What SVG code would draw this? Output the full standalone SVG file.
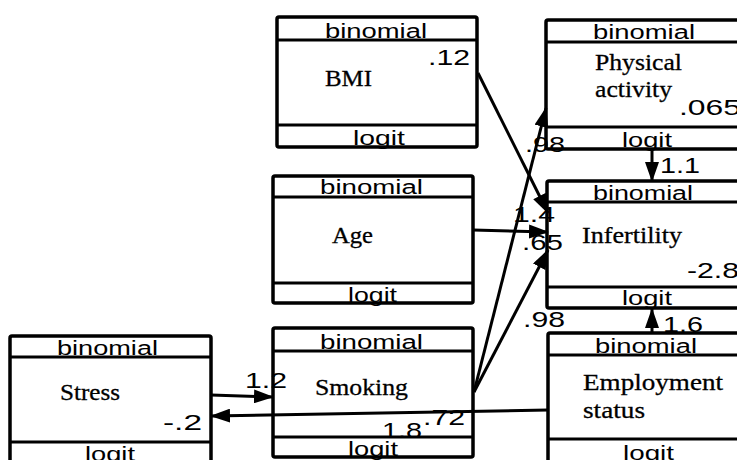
<svg xmlns="http://www.w3.org/2000/svg" width="737" height="460" viewBox="0 0 737 460">
<defs>
<marker id="ah" markerUnits="userSpaceOnUse" markerWidth="20" markerHeight="14" refX="19" refY="7" orient="auto"><path d="M0,0 L20,7 L0,14 z" fill="#000"/></marker>
<style>
.box{fill:#fff;stroke:#000;stroke-width:3.5}
.sep{stroke:#000;stroke-width:3}
.sans{font-family:"Liberation Sans",Arial,sans-serif;font-size:20px;fill:#000}
.num{font-family:"Liberation Sans",Arial,sans-serif;font-size:22px;fill:#000}
.serif{font-family:"Liberation Serif","Times New Roman",serif;font-size:24px;fill:#000;stroke:#000;stroke-width:0.3}
.edge{stroke:#000;stroke-width:3;fill:none;marker-end:url(#ah)}
</style>
</defs>
<rect width="737" height="460" fill="#fff"/>

<g id="node-bmi">
<rect class="box" x="277" y="17" width="200" height="130" rx="2"/>
<line class="sep" x1="277" y1="40" x2="477" y2="40"/>
<line class="sep" x1="277" y1="125" x2="477" y2="125"/>
<text class="sans" x="325" y="38" textLength="102" lengthAdjust="spacingAndGlyphs">binomial</text>
<text class="serif" x="325" y="86" textLength="47" lengthAdjust="spacingAndGlyphs">BMI</text>
<text class="sans" x="353" y="145" textLength="52" lengthAdjust="spacingAndGlyphs">logit</text>
</g>

<g id="node-physical">
<rect class="box" x="546" y="20" width="200" height="129" rx="2"/>
<line class="sep" x1="546" y1="42" x2="746" y2="42"/>
<line class="sep" x1="546" y1="127" x2="746" y2="127"/>
<text class="sans" x="593" y="39" textLength="102" lengthAdjust="spacingAndGlyphs">binomial</text>
<text class="serif" x="595" y="70" textLength="87" lengthAdjust="spacingAndGlyphs">Physical</text>
<text class="serif" x="595" y="97" textLength="77" lengthAdjust="spacingAndGlyphs">activity</text>
<text class="sans" x="622" y="147" textLength="50" lengthAdjust="spacingAndGlyphs">logit</text>
</g>

<g id="node-infertility">
<rect class="box" x="547" y="181" width="200" height="127" rx="2"/>
<line class="sep" x1="547" y1="202" x2="747" y2="202"/>
<line class="sep" x1="547" y1="287" x2="747" y2="287"/>
<text class="sans" x="593" y="200" textLength="100" lengthAdjust="spacingAndGlyphs">binomial</text>
<text class="serif" x="582" y="243" textLength="100" lengthAdjust="spacingAndGlyphs">Infertility</text>
<text class="sans" x="622" y="305" textLength="50" lengthAdjust="spacingAndGlyphs">logit</text>
</g>

<g id="node-age">
<rect class="box" x="273" y="176" width="200" height="127" rx="2"/>
<line class="sep" x1="273" y1="197" x2="473" y2="197"/>
<line class="sep" x1="273" y1="283" x2="473" y2="283"/>
<text class="sans" x="320" y="194" textLength="103" lengthAdjust="spacingAndGlyphs">binomial</text>
<text class="serif" x="332" y="243" textLength="41" lengthAdjust="spacingAndGlyphs">Age</text>
<text class="sans" x="348" y="302" textLength="49" lengthAdjust="spacingAndGlyphs">logit</text>
</g>

<g id="node-stress">
<rect class="box" x="10" y="336" width="201" height="140" rx="2"/>
<line class="sep" x1="10" y1="357" x2="211" y2="357"/>
<line class="sep" x1="10" y1="442" x2="211" y2="442"/>
<text class="sans" x="57" y="355" textLength="101" lengthAdjust="spacingAndGlyphs">binomial</text>
<text class="serif" x="60" y="400" textLength="60" lengthAdjust="spacingAndGlyphs">Stress</text>
<text class="sans" x="85" y="461" textLength="50" lengthAdjust="spacingAndGlyphs">logit</text>
</g>

<g id="node-smoking">
<rect class="box" x="273" y="328" width="200" height="129" rx="2"/>
<line class="sep" x1="273" y1="351" x2="473" y2="351"/>
<line class="sep" x1="273" y1="437" x2="473" y2="437"/>
<text class="sans" x="320" y="349" textLength="103" lengthAdjust="spacingAndGlyphs">binomial</text>
<text class="serif" x="315" y="395" textLength="93" lengthAdjust="spacingAndGlyphs">Smoking</text>
<text class="sans" x="348" y="456" textLength="50" lengthAdjust="spacingAndGlyphs">logit</text>
</g>

<g id="node-employment">
<rect class="box" x="548" y="333" width="200" height="140" rx="2"/>
<line class="sep" x1="548" y1="355" x2="748" y2="355"/>
<line class="sep" x1="548" y1="439" x2="748" y2="439"/>
<text class="sans" x="595" y="353" textLength="102" lengthAdjust="spacingAndGlyphs">binomial</text>
<text class="serif" x="583" y="390" textLength="140" lengthAdjust="spacingAndGlyphs">Employment</text>
<text class="serif" x="583" y="418" textLength="62" lengthAdjust="spacingAndGlyphs">status</text>
<text class="sans" x="623" y="460" textLength="51" lengthAdjust="spacingAndGlyphs">logit</text>
</g>

<g id="connectors">
<line class="edge" x1="478" y1="73" x2="548" y2="213"/>
<line class="edge" x1="473" y1="230" x2="548" y2="232"/>
<line class="edge" x1="474" y1="392" x2="548" y2="250"/>
<line class="edge" x1="474" y1="392" x2="546" y2="108"/>
<line class="edge" x1="652" y1="149" x2="652" y2="181"/>
<line class="edge" x1="652" y1="333" x2="652" y2="309"/>
<line class="edge" x1="211" y1="395" x2="273" y2="397"/>
<line class="edge" x1="548" y1="410" x2="211" y2="416"/>
</g>

<g id="labels">
<text class="num" x="428" y="65" textLength="42" lengthAdjust="spacingAndGlyphs">.12</text>
<text class="num" x="679" y="115" textLength="62" lengthAdjust="spacingAndGlyphs">.065</text>
<text class="num" x="525" y="152" textLength="40" lengthAdjust="spacingAndGlyphs">.98</text>
<text class="num" x="660" y="173" textLength="40" lengthAdjust="spacingAndGlyphs">1.1</text>
<text class="num" x="513" y="222" textLength="42" lengthAdjust="spacingAndGlyphs">1.4</text>
<text class="num" x="522" y="250" textLength="41" lengthAdjust="spacingAndGlyphs">.65</text>
<text class="num" x="687" y="278" textLength="52" lengthAdjust="spacingAndGlyphs">-2.8</text>
<text class="num" x="523" y="327" textLength="42" lengthAdjust="spacingAndGlyphs">.98</text>
<text class="num" x="663" y="332" textLength="40" lengthAdjust="spacingAndGlyphs">1.6</text>
<text class="num" x="245" y="388" textLength="42" lengthAdjust="spacingAndGlyphs">1.2</text>
<text class="num" x="163" y="430" textLength="39" lengthAdjust="spacingAndGlyphs">-.2</text>
<text class="num" x="423" y="425" textLength="42" lengthAdjust="spacingAndGlyphs">.72</text>
<text class="num" x="382" y="438" textLength="40" lengthAdjust="spacingAndGlyphs">1.8</text>
</g>
</svg>
